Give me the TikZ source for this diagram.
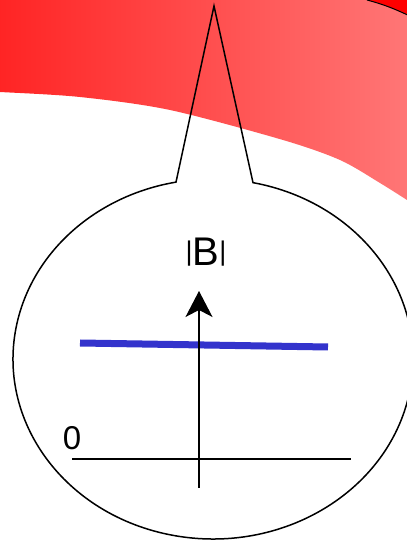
\documentclass[tikz,border=0pt]{standalone}
\usepackage{fontspec}
\setmainfont{Liberation Sans}
\usetikzlibrary{arrows.meta}

\begin{document}
\begin{tikzpicture}[
  x=1pt, y=1pt,
  >={Stealth[length=26pt, width=27pt, inset=7pt]},
  outline/.style={draw=black, line width=1.5pt, line join=miter},
  axis/.style={draw=black, line width=1.4pt},
  level/.style={draw=fieldblue, line width=7pt},
  label/.style={inner sep=0pt, text=black}
]
\definecolor{fieldblue}{HTML}{3333CC}
\definecolor{bandleft}{HTML}{FF2222}
\definecolor{bandright}{HTML}{FF7777}
\useasboundingbox (0,0) rectangle (407,542);
\clip (0,0) rectangle (407,542);

% Red band
\shade[left color=bandleft, right color=bandright]
  (-5,560) -- (364,560) -- (367,542) to[out=-15, in=155] (412,525) -- (412,339)
  -- plot[smooth, tension=0.5] coordinates {(407,342) (380,359) (340,382)
     (283,402) (170,432) (80,445) (0,450) (-5,450)} -- cycle;
\fill[red] (367,542) to[out=-15, in=155] (412,525) -- (412,560) -- (367,560) -- cycle;
\draw[line width=1pt] (367,542) to[out=-15, in=155] (412,525);

% Bubble
\coordinate (centre) at (213,183);
\coordinate (tip) at (214,536);
\fill[white] (centre) ellipse [x radius=200, y radius=180];
\draw[outline] ([shift={(100.66:200 and 180)}]centre) -- (tip)
  -- ([shift={(78.46:200 and 180)}]centre)
  arc[start angle=78.46, end angle=-259.34, x radius=200, y radius=180] -- cycle;

% Plot inside
\coordinate (base west) at (72,83);
\coordinate (base east) at (351,83);
\coordinate (foot) at (199,54);
\coordinate (head) at (199,251);
\coordinate (level west) at (80,199);
\coordinate (level east) at (328,195);
\draw[axis] (base west) -- (base east);
\draw[level] (level west) -- (level east);
\draw[axis, ->] (foot) -- (head);
\node[label, font=\fontsize{40}{40}\selectfont] (mag) at (206,290)
  {\raisebox{5.6pt}{\fontsize{27}{27}\selectfont|}B\raisebox{5.6pt}{\fontsize{27}{27}\selectfont|}};
\node[label, font=\fontsize{33}{33}\selectfont] (zero) at (72,104) {0};
\end{tikzpicture}
\end{document}
